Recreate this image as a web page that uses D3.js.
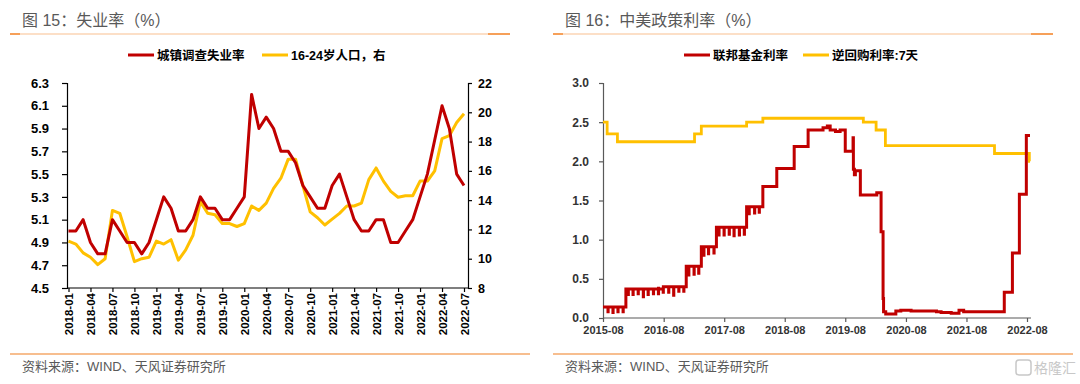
<!DOCTYPE html>
<html>
<head>
<meta charset="utf-8">
<script src="https://cdn.jsdelivr.net/npm/d3@7"></script>
<style>
  body { margin: 0; background: #fff; }
  svg { display: block; }
  text { font-family: "Liberation Sans", Arial, "Noto Sans CJK SC", sans-serif; }
</style>
</head>
<body>
<div id="chart"></div>
<script>
// ---- 图15 失业率 ----
var months = ["2018-01","2018-02","2018-03","2018-04","2018-05","2018-06","2018-07","2018-08","2018-09","2018-10","2018-11","2018-12",
  "2019-01","2019-02","2019-03","2019-04","2019-05","2019-06","2019-07","2019-08","2019-09","2019-10","2019-11","2019-12",
  "2020-01","2020-02","2020-03","2020-04","2020-05","2020-06","2020-07","2020-08","2020-09","2020-10","2020-11","2020-12",
  "2021-01","2021-02","2021-03","2021-04","2021-05","2021-06","2021-07","2021-08","2021-09","2021-10","2021-11","2021-12",
  "2022-01","2022-02","2022-03","2022-04","2022-05","2022-06","2022-07"];
var urbanRate = [5.0,5.0,5.1,4.9,4.8,4.8,5.1,5.0,4.9,4.9,4.8,4.9,
  5.1,5.3,5.2,5.0,5.0,5.1,5.3,5.2,5.2,5.1,5.1,5.2,
  5.3,6.2,5.9,6.0,5.9,5.7,5.7,5.6,5.4,5.3,5.2,5.2,
  5.4,5.5,5.3,5.1,5.0,5.0,5.1,5.1,4.9,4.9,5.0,5.1,
  5.3,5.5,5.8,6.1,5.9,5.5,5.4];
var youthRate = [11.2,11.0,10.4,10.1,9.6,10.0,13.3,13.1,11.5,9.8,10.0,10.1,
  11.2,11.0,11.3,9.9,10.6,11.6,13.9,13.1,13.0,12.4,12.4,12.2,
  12.4,13.6,13.3,13.8,14.8,15.5,16.8,16.8,15.0,13.2,12.8,12.3,
  12.7,13.1,13.6,13.6,13.8,15.4,16.2,15.3,14.6,14.2,14.3,14.3,
  15.3,15.3,16.0,18.2,18.4,19.3,19.9];
var leftTicks = [4.5,4.7,4.9,5.1,5.3,5.5,5.7,5.9,6.1,6.3];
var rightTicks = [8,10,12,14,16,18,20,22];

// ---- 图16 中美政策利率 ----
// 联邦基金利率：水平变化日期
var fedLevels = [
  ["2015-08-01",0.14],["2015-12-17",0.37],["2016-07-01",0.40],["2016-12-15",0.66],["2017-03-16",0.91],
  ["2017-06-15",1.16],["2017-12-14",1.42],["2018-03-22",1.68],["2018-06-14",1.91],["2018-09-27",2.19],
  ["2018-12-20",2.40],["2019-03-20",2.43],["2019-04-15",2.45],["2019-05-02",2.40],["2019-06-03",2.38],
  ["2019-07-01",2.40],["2019-08-01",2.13],["2019-09-17",2.30],["2019-09-19",1.90],["2019-09-25",1.83],
  ["2019-10-01",1.88],["2019-10-31",1.57],["2020-02-07",1.60],["2020-03-04",1.10],["2020-03-16",0.25],
  ["2020-03-19",0.08],["2020-04-01",0.05],["2020-06-01",0.09],["2020-07-01",0.10],["2020-09-01",0.09],
  ["2021-02-01",0.08],["2021-03-01",0.07],["2021-05-01",0.06],["2021-06-17",0.10],["2021-07-15",0.08],
  ["2022-03-17",0.33],["2022-05-05",0.83],["2022-06-16",1.58],["2022-07-28",2.33]];
// 月末回落
var fedDips = [
  ["2015-08-31",0.08],["2015-09-30",0.07],["2015-10-30",0.08],["2015-11-30",0.08],["2015-12-31",0.30],
  ["2016-01-29",0.30],["2016-02-29",0.31],["2016-03-31",0.27],["2016-04-29",0.30],["2016-05-31",0.31],
  ["2016-06-30",0.31],["2016-07-29",0.33],["2016-08-31",0.33],["2016-09-30",0.29],["2016-10-31",0.34],
  ["2016-11-30",0.34],["2016-12-30",0.55],["2017-01-31",0.56],["2017-02-28",0.57],["2017-03-31",0.80],
  ["2017-04-28",0.82],["2017-05-31",0.83],["2017-06-30",1.06],["2017-07-31",1.06],["2017-08-31",1.07],
  ["2017-09-29",1.05],["2017-10-31",1.06],["2017-11-30",1.07],["2017-12-29",1.33],["2018-01-31",1.34],
  ["2018-02-28",1.35]];
// 逆回购利率:7天
var repoLevels = [
  ["2015-08-01",2.50],["2015-08-26",2.35],["2015-10-27",2.25],["2017-02-03",2.35],["2017-03-16",2.45],
  ["2017-12-14",2.50],["2018-03-22",2.55],["2019-11-18",2.50],["2020-02-03",2.40],["2020-03-30",2.20],
  ["2022-01-17",2.10],["2022-08-15",2.00]];
var rateEnd = "2022-08-19";
var rateTicks = [0,0.5,1.0,1.5,2.0,2.5,3.0];
var yearTicks = ["2015-08","2016-08","2017-08","2018-08","2019-08","2020-08","2021-08","2022-08"];

var red = "#c00000", yellow = "#ffc000";
var svg = d3.select("#chart").append("svg").attr("width", 1080).attr("height", 384);

// 标题、分隔线、来源
function frame(x0, x1, title, source) {
  svg.append("text").attr("x", x0 + 12).attr("y", 26)
    .attr("font-family", "Noto Sans CJK SC").attr("font-size", 16).attr("fill", "#595959")
    .text(title);
  svg.append("line").attr("x1", x0).attr("x2", x1).attr("y1", 34).attr("y2", 34)
    .attr("stroke", "#fbd4b4").attr("stroke-width", 1.5);
  svg.append("line").attr("x1", x0).attr("x2", x0 + 10).attr("y1", 34).attr("y2", 34)
    .attr("stroke", "#f58b34").attr("stroke-width", 1.5);
  svg.append("line").attr("x1", x1 - 22).attr("x2", x1).attr("y1", 34).attr("y2", 34)
    .attr("stroke", "#f58b34").attr("stroke-width", 1.5);
  svg.append("line").attr("x1", x0).attr("x2", x1 + 20).attr("y1", 354).attr("y2", 354)
    .attr("stroke", "#f4a96a").attr("stroke-width", 1.5);
  svg.append("text").attr("x", x0 + 12).attr("y", 371)
    .attr("font-family", "Noto Sans CJK SC").attr("font-size", 13).attr("fill", "#595959")
    .text(source);
}
frame(10, 510, "图 15：失业率（%）", "资料来源：WIND、天风证券研究所");
frame(553, 1053, "图 16：中美政策利率（%）", "资料来源：WIND、天风证券研究所");

function legend(items) {
  items.forEach(function (it) {
    svg.append("line").attr("x1", it.x).attr("x2", it.x + 26).attr("y1", 55).attr("y2", 55)
      .attr("stroke", it.color).attr("stroke-width", 3);
    svg.append("text").attr("x", it.x + 29).attr("y", 59.5)
      .attr("font-size", 12.5).attr("font-weight", "bold").attr("fill", "#000")
      .attr("font-family", "'Liberation Sans', 'Noto Sans CJK SC'")
      .text(it.name);
  });
}
legend([{x: 128, color: red, name: "城镇调查失业率"}, {x: 262, color: yellow, name: "16-24岁人口，右"}]);
legend([{x: 684, color: red, name: "联邦基金利率"}, {x: 803, color: yellow, name: "逆回购利率:7天"}]);

// ---------- 左图 ----------
var x = d3.scalePoint().domain(months).range([68.5, 464]);
var yL = d3.scaleLinear().domain([4.5, 6.3]).range([288, 83]);
var yR = d3.scaleLinear().domain([8, 22]).range([288, 83]);

var g1 = svg.append("g");
var axL = g1.append("g").attr("transform", "translate(67,0)")
  .call(d3.axisLeft(yL).tickValues(leftTicks).tickFormat(d3.format(".1f")).tickSize(5).tickPadding(13));
var axR = g1.append("g").attr("transform", "translate(468,0)")
  .call(d3.axisRight(yR).tickValues(rightTicks).tickSize(4).tickPadding(6));
var axB = g1.append("g").attr("transform", "translate(0,288)")
  .call(d3.axisBottom(x).tickValues(months.filter(function (d, i) { return i % 3 === 0; })).tickSize(4));
axB.select(".domain").attr("d", "M67,0H468");
axB.selectAll("text").attr("transform", "rotate(-90)").attr("text-anchor", "end")
  .attr("x", -5).attr("y", 0).attr("dy", "0.35em");
[axL, axR, axB].forEach(function (a) {
  a.selectAll("path,line").attr("stroke", "#000").attr("stroke-width", 1.2);
  a.selectAll("text").attr("font-size", 12).attr("font-weight", "bold").attr("fill", "#000")
    .attr("font-family", "'Liberation Sans', Arial");
});
axL.selectAll("text").attr("font-size", 13);
axB.selectAll("text").attr("font-size", 11.5);
axR.selectAll("text").attr("font-size", 12.5);

g1.append("path").datum(youthRate)
  .attr("fill", "none").attr("stroke", yellow).attr("stroke-width", 3).attr("stroke-linejoin", "round")
  .attr("d", d3.line().x(function (d, i) { return x(months[i]); }).y(function (d) { return yR(d); }));
g1.append("path").datum(urbanRate)
  .attr("fill", "none").attr("stroke", red).attr("stroke-width", 3).attr("stroke-linejoin", "round")
  .attr("d", d3.line().x(function (d, i) { return x(months[i]); }).y(function (d) { return yL(d); }));

// ---------- 右图 ----------
var parse = d3.timeParse("%Y-%m-%d");
var endDate = parse(rateEnd);
var xt = d3.scaleTime().domain([parse("2015-08-01"), parse("2022-08-01")]).range([603, 1027]);
var yt = d3.scaleLinear().domain([0, 3]).range([318, 83]);

function stepSeries(levels, dips) {
  var pts = levels.map(function (d) { return {date: parse(d[0]), v: d[1]}; });
  var base = pts.slice();
  function levelAt(t) {
    var v = base[0].v;
    base.forEach(function (p) { if (p.date <= t) v = p.v; });
    return v;
  }
  (dips || []).forEach(function (d) {
    var t = parse(d[0]);
    pts.push({date: t, v: d[1]});
    pts.push({date: d3.timeDay.offset(t, 1), v: levelAt(t)});
  });
  pts.sort(function (a, b) { return a.date - b.date; });
  pts.push({date: endDate, v: levelAt(endDate)});
  return pts;
}
var fedSeries = stepSeries(fedLevels, fedDips);
var repoSeries = stepSeries(repoLevels, null);

var g2 = svg.append("g");
var axY2 = g2.append("g").attr("transform", "translate(603,0)")
  .call(d3.axisLeft(yt).tickValues(rateTicks).tickFormat(d3.format(".1f")).tickSize(4).tickPadding(10));
var axX2 = g2.append("g").attr("transform", "translate(0,318)")
  .call(d3.axisBottom(xt).tickValues(yearTicks.map(function (s) { return parse(s + "-01"); }))
    .tickFormat(d3.timeFormat("%Y-%m")).tickSize(4).tickPadding(4));
axX2.select(".domain").attr("d", "M603,0H" + (xt(endDate) + 1));
[axY2, axX2].forEach(function (a) {
  a.selectAll("path,line").attr("stroke", "#595959").attr("stroke-width", 1.2);
  a.selectAll("text").attr("font-weight", "bold").attr("fill", "#333")
    .attr("font-family", "'Liberation Sans Narrow', 'Liberation Sans', Arial");
});
axY2.selectAll("text").attr("font-size", 12);
axX2.selectAll("text").attr("font-size", 11);

var stepLine = d3.line().curve(d3.curveStepAfter)
  .x(function (d) { return xt(d.date); }).y(function (d) { return yt(d.v); });
g2.append("path").datum(repoSeries)
  .attr("fill", "none").attr("stroke", yellow).attr("stroke-width", 2.8).attr("d", stepLine);
g2.append("path").datum(fedSeries)
  .attr("fill", "none").attr("stroke", red).attr("stroke-width", 3).attr("d", stepLine);

// 水印
svg.append("text").attr("x", 1034).attr("y", 373).attr("font-family", "Noto Sans CJK SC")
  .attr("font-size", 14).attr("fill", "#c8c8c8").text("格隆汇");
svg.append("rect").attr("x", 1016).attr("y", 360).attr("width", 15).attr("height", 15).attr("rx", 3)
  .attr("fill", "none").attr("stroke", "#c8c8c8").attr("stroke-width", 1.5);
</script>
</body>
</html>
